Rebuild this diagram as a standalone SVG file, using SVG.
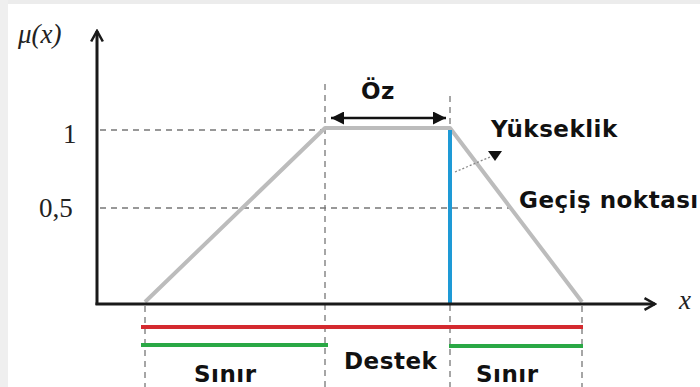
<svg xmlns="http://www.w3.org/2000/svg" width="700" height="387" viewBox="0 0 700 387">
<defs>
<style>
.ax{stroke:#1a1a1a;stroke-width:3;fill:none}
.dash{stroke:#777;stroke-width:1.3;stroke-dasharray:6,5;fill:none}
.vd{stroke:#777;stroke-width:1.3;stroke-dasharray:6,5;fill:none}
.lbl{font-family:"Liberation Serif",serif;font-size:27px;fill:#222}
.t{font-family:"DejaVu Sans","Liberation Sans",sans-serif;font-weight:bold;font-size:23px;letter-spacing:0.5px;fill:#111}
</style>
<marker id="oa" viewBox="0 0 12 12" refX="10" refY="6" markerWidth="14" markerHeight="14" markerUnits="userSpaceOnUse" orient="auto">
<path d="M1,1 L10,6 L1,11" fill="none" stroke="#1a1a1a" stroke-width="2.2"/>
</marker>
<marker id="fa" viewBox="0 0 10 10" refX="10" refY="5" markerWidth="13" markerHeight="13" markerUnits="userSpaceOnUse" orient="auto-start-reverse">
<path d="M0,0 L10,5 L0,10 Z" fill="#111"/>
</marker>
</defs>
<rect x="0" y="0" width="700" height="387" fill="#ffffff"/>
<rect x="0" y="0" width="700" height="4" fill="#ececec"/>
<rect x="0" y="0" width="8" height="387" fill="#efefef"/>
<g id="connectors">
<line class="dash" x1="100" y1="130" x2="325" y2="130"/>
<line class="dash" x1="100" y1="208" x2="512" y2="208"/>
<line class="vd" x1="325" y1="84" x2="325" y2="387"/>
<line class="vd" x1="450" y1="96" x2="450" y2="387"/>
<line class="vd" x1="145" y1="306" x2="145" y2="387"/>
<line class="vd" x1="582" y1="306" x2="582" y2="387"/>
<polyline points="145,302 325,128 450,128 582,302" fill="none" stroke="#bcbcbc" stroke-width="4" stroke-linejoin="round"/>
<line x1="450" y1="130" x2="450" y2="303" stroke="#1e9ad6" stroke-width="4"/>
<line x1="331" y1="118" x2="446" y2="118" stroke="#111" stroke-width="2.5" marker-start="url(#fa)" marker-end="url(#fa)"/>
<line x1="455" y1="172" x2="490" y2="157" stroke="#888" stroke-width="1.3" stroke-dasharray="2,2"/>
<path d="M488,151 L502,151 L495,161 Z" fill="#111"/>
<line class="ax" x1="97" y1="305" x2="97" y2="31" marker-end="url(#oa)"/>
<line class="ax" x1="95.5" y1="304" x2="655" y2="304" marker-end="url(#oa)"/>
<line x1="141" y1="327" x2="583" y2="327" stroke="#d42a2f" stroke-width="4"/>
<line x1="141" y1="345" x2="328" y2="345" stroke="#2aa845" stroke-width="4"/>
<line x1="449" y1="346" x2="583" y2="346" stroke="#2aa845" stroke-width="4"/>
</g>
<g id="axis-labels">
<text class="lbl" x="18" y="43" font-style="italic" font-size="30">μ(x)</text>
<text class="lbl" x="63" y="143">1</text>
<text class="lbl" x="39" y="217">0,5</text>
<text class="lbl" x="679" y="309" font-style="italic">x</text>
</g>
<g id="oz"><text class="t" x="361" y="99">Öz</text></g>
<g id="yukseklik"><text class="t" x="491" y="137">Yükseklik</text></g>
<g id="gecis"><text class="t" x="519" y="208">Geçiş noktası</text></g>
<g id="sinir1"><text class="t" x="194" y="382">Sınır</text></g>
<g id="destek"><text class="t" x="344" y="369">Destek</text></g>
<g id="sinir2"><text class="t" x="476" y="382">Sınır</text></g>
</svg>
